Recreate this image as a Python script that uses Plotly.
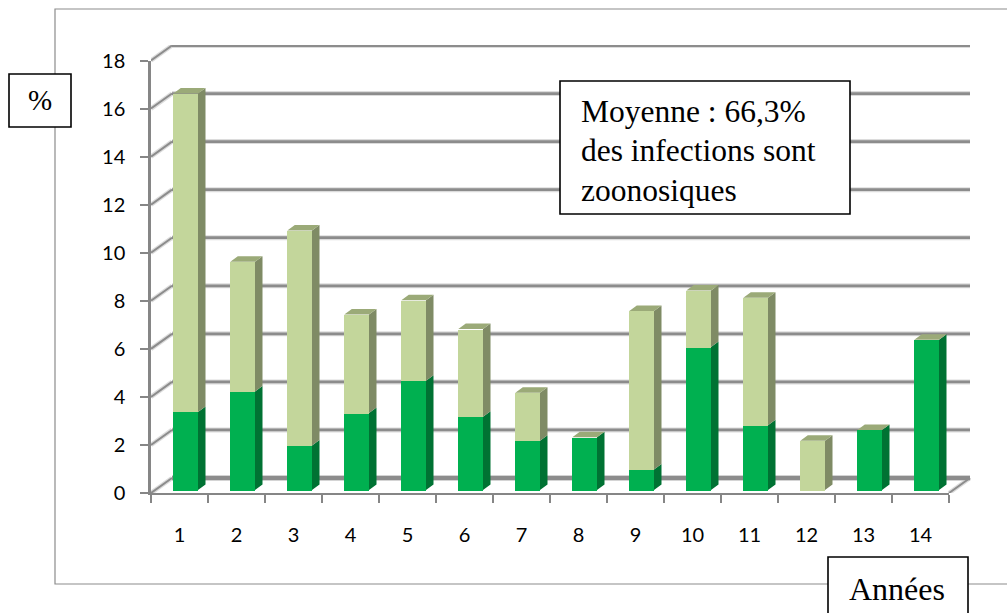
import plotly.graph_objects as go

# ---- data ----
years = list(range(1, 15))
zoonotic = [3.25, 4.1, 1.85, 3.2, 4.55, 3.05, 2.05, 2.2, 0.85, 5.95, 2.7, 0, 2.5, 6.25]
other = [13.25, 5.4, 8.95, 4.1, 3.35, 3.65, 2.0, 0, 6.6, 2.35, 5.3, 2.05, 0, 0]
y_ticks = list(range(0, 20, 2))
note_lines = ["Moyenne : 66,3%", "des infections sont", "zoonosiques"]

# ---- geometry ----
W, H = 1007, 613
L, R, T, B = 151, 971, 45, 493      # plot block in pixels (axes + back wall)
AX_R, AX_T = 949, 60.5              # end of the visible axes
PX_X = (AX_R - L) / 14
PX_Y = (B - AX_T) / 18
DEPTH_X, DEPTH_Y = 21 / PX_X, 15 / PX_Y    # depth of the back wall, axis units
BAR_DX, BAR_DY = 7.5 / PX_X, 5.5 / PX_Y    # depth of a bar, axis units
BAR_OFF, BAR_W = -6.2 / PX_X, 24.7 / PX_X
FLOOR = 3 / PX_Y


def px(x):
    return (x - L) / (R - L)


def py(y):
    return (B - y) / (B - T)


traces = []

# back wall and floor (lower subplot layer)
gx_h, gy_h, dx, dy = [], [], [], []
for v in y_ticks:
    gx_h += [0.5 + DEPTH_X, 14.5 + DEPTH_X, None]
    gy_h += [v + DEPTH_Y, v + DEPTH_Y, None]
    dx += [0.5, 0.5 + DEPTH_X, None]
    dy += [v, v + DEPTH_Y, None]
dx += [14.5, 14.5 + DEPTH_X]
dy += [0, DEPTH_Y]
for xs, ys, c, w in [
    (gx_h, gy_h, "#dcdcdc", 5),
    (dx, dy, "#dcdcdc", 4.5),
    (gx_h, gy_h, "#8c8c8c", 2.8),
    (dx, dy, "#8c8c8c", 2),
    ([0.5 + DEPTH_X, 14.5 + DEPTH_X], [DEPTH_Y, DEPTH_Y], "#8c8c8c", 4.5),
]:
    traces.append(go.Scatter(x=xs, y=ys, mode="lines", line=dict(color=c, width=w),
                             cliponaxis=False, hoverinfo="skip", showlegend=False,
                             xaxis="x", yaxis="y"))

# fronts of the bars
traces.append(go.Bar(x=years, y=zoonotic, base=[FLOOR] * 14, offset=BAR_OFF, width=BAR_W,
                     marker=dict(color="#00B050", line=dict(width=0)), showlegend=False,
                     xaxis="x2", yaxis="y2"))
traces.append(go.Bar(x=years, y=other, base=[FLOOR + z for z in zoonotic], offset=BAR_OFF, width=BAR_W,
                     marker=dict(color="#C3D69B", line=dict(width=0)), showlegend=False,
                     xaxis="x2", yaxis="y2"))


def faces(bottoms, tops):
    sx, sy = [], []
    for yr, b, t in zip(years, bottoms, tops):
        if t <= b:
            continue
        x1 = yr + BAR_OFF + BAR_W
        sx += [x1, x1 + BAR_DX, x1 + BAR_DX, x1, x1, None]
        sy += [b, b + BAR_DY, t + BAR_DY, t, b, None]
    return sx, sy


z_bot = [FLOOR] * 14
z_top = [FLOOR + z for z in zoonotic]
o_top = [a + o for a, o in zip(z_top, other)]
for bottoms, tops, col in [(z_bot, z_top, "#007233"), (z_top, o_top, "#7F8B65")]:
    sx, sy = faces(bottoms, tops)
    traces.append(go.Scatter(x=sx, y=sy, mode="lines", fill="toself", fillcolor=col,
                             line=dict(width=0, color=col), cliponaxis=False, hoverinfo="skip",
                             showlegend=False, xaxis="x2", yaxis="y2"))

tx, ty = [], []
for yr, t in zip(years, o_top):
    x0 = yr + BAR_OFF
    x1 = x0 + BAR_W
    tx += [x0, x0 + BAR_DX, x1 + BAR_DX, x1, x0, None]
    ty += [t, t + BAR_DY, t + BAR_DY, t, t, None]
traces.append(go.Scatter(x=tx, y=ty, mode="lines", fill="toself", fillcolor="#9BAA78",
                         line=dict(width=0, color="#9BAA78"), cliponaxis=False, hoverinfo="skip",
                         showlegend=False, xaxis="x2", yaxis="y2"))

fig = go.Figure(traces)

LINE = "#868686"
AXFONT = dict(family="Lato, Carlito, sans-serif", size=20, color="#000000")

BOX = dict(type="rect", xref="paper", yref="paper", fillcolor="#FFFFFF",
           line=dict(color="#000000", width=1.6))
shapes = [
    dict(type="rect", xref="paper", yref="paper", layer="below",
         x0=px(55), x1=px(1012), y0=py(584), y1=py(9),
         line=dict(color="#8c8c8c", width=1.2), fillcolor="rgba(0,0,0,0)"),
    dict(BOX, x0=px(9), x1=px(71), y0=py(127), y1=py(74)),
    dict(BOX, x0=px(560), x1=px(850), y0=py(214), y1=py(81)),
    dict(BOX, x0=px(828), x1=px(968), y0=py(625), y1=py(557)),
]

SERIF = "Liberation Serif, Times New Roman, serif"
annotations = [
    dict(text="%", xref="paper", yref="paper", x=px(40), y=py(100), showarrow=False,
         xanchor="center", yanchor="middle", font=dict(family=SERIF, size=29, color="#000000")),
    dict(text="Années", xref="paper", yref="paper", x=px(897), y=py(589), showarrow=False,
         xanchor="center", yanchor="middle", font=dict(family=SERIF, size=32, color="#000000")),
]
for line_text, y_px in zip(note_lines, [112, 150, 191]):
    annotations.append(dict(text=line_text, xref="paper", yref="paper", x=px(579), y=py(y_px),
                            showarrow=False, xanchor="left", yanchor="middle",
                            font=dict(family=SERIF, size=31.5, color="#000000")))

fig.update_layout(
    width=W, height=H, autosize=False,
    margin=dict(l=L, r=W - R, t=T, b=H - B, pad=0),
    paper_bgcolor="#FFFFFF", plot_bgcolor="rgba(0,0,0,0)",
    barmode="overlay", showlegend=False, bargap=0,
    shapes=shapes, annotations=annotations,
    xaxis=dict(domain=[0, 1], range=[0.5, 0.5 + (R - L) / PX_X], visible=False, anchor="y"),
    yaxis=dict(domain=[0, 1], range=[0, (B - T) / PX_Y], visible=False, anchor="x"),
    xaxis2=dict(domain=[0, (AX_R - L) / (R - L)], range=[0.5, 14.5], anchor="y2",
                tickmode="array", tickvals=years, ticktext=[str(y) for y in years],
                ticks="outside", ticklen=23, tickcolor="rgba(0,0,0,0)", tickwidth=1,
                showline=True, linecolor=LINE, linewidth=2, showgrid=False, zeroline=False,
                minor=dict(tickmode="array", tickvals=[y - 0.5 for y in years] + [14.5],
                           ticks="outside", ticklen=8, tickcolor=LINE, tickwidth=2, showgrid=False),
                tickfont=AXFONT),
    yaxis2=dict(domain=[0, (B - AX_T) / (B - T)], range=[0, 18], anchor="x2",
                tickmode="array", tickvals=y_ticks, ticks="outside", ticklen=8, tickcolor=LINE,
                tickwidth=2, showline=True, linecolor=LINE, linewidth=2.5, showgrid=False,
                zeroline=False, ticklabelstandoff=11, tickfont=AXFONT),
)

fig.write_html("out.html", config={"displayModeBar": False},
               post_script="document.body.style.margin='0';")
